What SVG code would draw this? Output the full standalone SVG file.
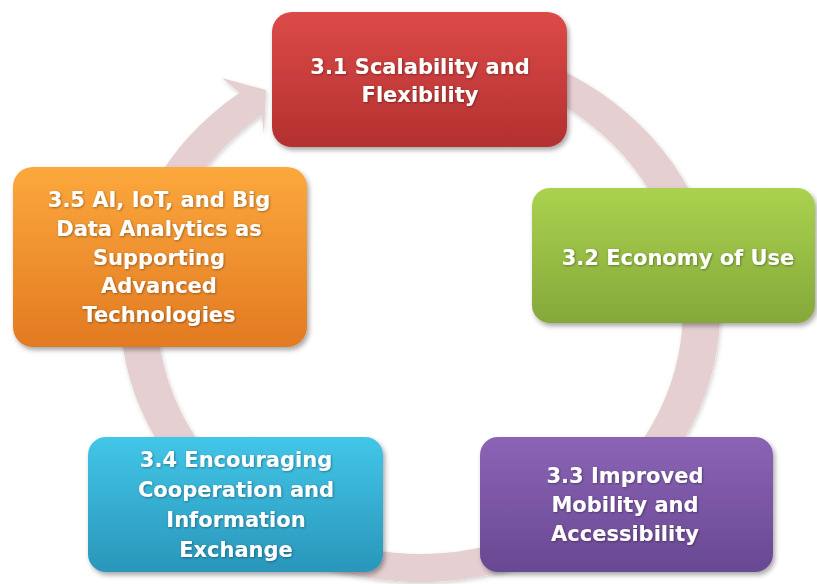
<svg xmlns="http://www.w3.org/2000/svg" width="817" height="584" viewBox="0 0 817 584">
  <style>
    .lbl { font-family: "DejaVu Sans", "Liberation Sans", sans-serif; font-weight: bold; font-size: 21px; fill: #ffffff; text-anchor: middle; filter: url(#tshadow); }
    .box { filter: url(#bshadow); }
  </style>
  <defs>
    <filter id="bshadow" x="-10%" y="-10%" width="125%" height="130%">
      <feDropShadow dx="2" dy="3" stdDeviation="2.5" flood-color="#000" flood-opacity="0.35"/>
    </filter>
    <filter id="rshadow" x="-10%" y="-10%" width="120%" height="120%">
      <feDropShadow dx="1" dy="2" stdDeviation="2" flood-color="#000" flood-opacity="0.18"/>
    </filter>
    <filter id="tshadow" x="-10%" y="-20%" width="120%" height="150%">
      <feDropShadow dx="0.8" dy="0.8" stdDeviation="0.8" flood-color="#000" flood-opacity="0.4"/>
    </filter>
    <linearGradient id="gRed" x1="0" y1="0" x2="0" y2="1">
      <stop offset="0" stop-color="#dc4a48"/>
      <stop offset="1" stop-color="#b3302f"/>
    </linearGradient>
    <linearGradient id="gGreen" x1="0" y1="0" x2="0" y2="1">
      <stop offset="0" stop-color="#aad24f"/>
      <stop offset="1" stop-color="#85a83a"/>
    </linearGradient>
    <linearGradient id="gPurple" x1="0" y1="0" x2="0" y2="1">
      <stop offset="0" stop-color="#8b64b6"/>
      <stop offset="1" stop-color="#694892"/>
    </linearGradient>
    <linearGradient id="gCyan" x1="0" y1="0" x2="0" y2="1">
      <stop offset="0" stop-color="#42c6e8"/>
      <stop offset="1" stop-color="#2996ba"/>
    </linearGradient>
    <linearGradient id="gOrange" x1="0" y1="0" x2="0" y2="1">
      <stop offset="0" stop-color="#fca83c"/>
      <stop offset="1" stop-color="#e27a22"/>
    </linearGradient>
  </defs>

  <g id="connectors">
    <path id="cycle-arrow" filter="url(#rshadow)" fill="#e6cfd1"
      d="M 420 38 A 300 272 0 1 1 239.5 92.8 L 222 78 L 266 90 L 264 134 L 261.7 115.1 A 263 244 0 1 0 420 66 Z"/>
  </g>

  <g id="node-3-1">
    <rect class="box" x="272" y="12" width="295" height="135" rx="20" fill="url(#gRed)"/>
    <text class="lbl" x="420" y="74">3.1 Scalability and</text>
    <text class="lbl" x="420" y="102">Flexibility</text>
  </g>

  <g id="node-3-2">
    <rect class="box" x="532" y="188" width="283" height="135" rx="18" fill="url(#gGreen)"/>
    <text class="lbl" x="678" y="265">3.2 Economy of Use</text>
  </g>

  <g id="node-3-3">
    <rect class="box" x="480" y="437" width="293" height="135" rx="18" fill="url(#gPurple)"/>
    <text class="lbl" x="625" y="483">3.3 Improved</text>
    <text class="lbl" x="625" y="512">Mobility and</text>
    <text class="lbl" x="625" y="541">Accessibility</text>
  </g>

  <g id="node-3-4">
    <rect class="box" x="88" y="437" width="295" height="135" rx="18" fill="url(#gCyan)"/>
    <text class="lbl" x="236" y="467">3.4 Encouraging</text>
    <text class="lbl" x="236" y="497">Cooperation and</text>
    <text class="lbl" x="236" y="527">Information</text>
    <text class="lbl" x="236" y="557">Exchange</text>
  </g>

  <g id="node-3-5">
    <rect class="box" x="13" y="167" width="294" height="180" rx="20" fill="url(#gOrange)"/>
    <text class="lbl" x="159" y="207">3.5 AI, IoT, and Big</text>
    <text class="lbl" x="159" y="236">Data Analytics as</text>
    <text class="lbl" x="159" y="265">Supporting</text>
    <text class="lbl" x="159" y="293">Advanced</text>
    <text class="lbl" x="159" y="322">Technologies</text>
  </g>
</svg>
